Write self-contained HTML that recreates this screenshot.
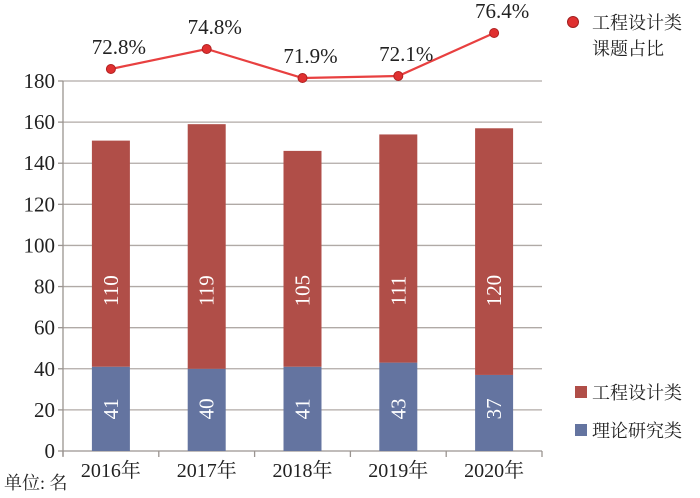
<!DOCTYPE html>
<html><head><meta charset="utf-8"><style>
body{margin:0;background:#fff}
svg text{font-family:"Liberation Serif","DejaVu Serif","Noto Serif CJK SC",serif}
</style></head><body>
<svg width="700" height="493" viewBox="0 0 700 493">
<g id="grid"></g><g id="bars"></g><g id="line"></g>
<g font-size="18" fill="#222">
<circle cx="573" cy="22" r="5.5" fill="#e03030" stroke="#a02020"/>
<text x="592" y="29">工程设计类</text>
<text x="592" y="55">课题占比</text>
<rect x="575" y="386" width="12" height="12" fill="#b04e48"/>
<text x="592" y="399">工程设计类</text>
<rect x="575" y="424" width="12" height="12" fill="#6474a0"/>
<text x="592" y="437">理论研究类</text>
</g>
<text x="4" y="489" font-size="18" fill="#222">单位: 名</text>
</svg>
<script>
const categories=["2016年","2017年","2018年","2019年","2020年"];
const theory=[41,40,41,43,37];
const engineering=[110,119,105,111,120];
const ratio=[72.8,74.8,71.9,72.1,76.4];
const yTicks=[0,20,40,60,80,100,120,140,160,180];
const NS="http://www.w3.org/2000/svg";
const X0=63,X1=542,Y0=451,Y180=81;
const bw=(X1-X0)/categories.length;
const y=v=>Y0-(v/180)*(Y0-Y180);
const xc=i=>X0+bw*(i+0.5);
const yr=p=>69-(p-72.8)*10;
function mk(t,a,p){const e=document.createElementNS(NS,t);for(const k in a)e.setAttribute(k,a[k]);p.appendChild(e);return e;}
const g=document.getElementById('grid'),b=document.getElementById('bars'),l=document.getElementById('line');
yTicks.forEach(v=>{
 if(v>0){const ln=mk('line',{x1:X0,x2:X1,y1:y(v),y2:y(v),stroke:'#b0aaa6','stroke-width':1.3},g);
 
 }
 const tk=mk('line',{x1:X0-5,x2:X0,y1:y(v),y2:y(v),stroke:'#9a9490','stroke-width':1.3},g);
 
 
 const t=mk('text',{x:X0-8,y:y(v)+7,'text-anchor':'end','font-size':21,fill:'#222'},g);t.textContent=v;
 
 
});
const ax=mk('line',{x1:X0,x2:X0,y1:Y180,y2:Y0+5,stroke:'#9a9490','stroke-width':1.3},g);


const xa=mk('line',{x1:X0,x2:X1,y1:Y0,y2:Y0,stroke:'#9a9490','stroke-width':1.3},g);


for(let i=0;i<=categories.length;i++){const t=mk('line',{x1:X0+bw*i,x2:X0+bw*i,y1:Y0,y2:Y0+6,stroke:'#9a9490','stroke-width':1.3},g);
 
 }
categories.forEach((c,i)=>{
 const cx=xc(i),w=38;
 const r1=mk('rect',{x:cx-w/2,y:y(theory[i]),width:w,height:Y0-y(theory[i]),fill:'#6474a0'},b);
 
 
 const top=theory[i]+engineering[i];
 const r2=mk('rect',{x:cx-w/2,y:y(top),width:w,height:y(theory[i])-y(top),fill:'#b04e48'},b);
 
 
 const ym1=y(20.5), ym2=y(78);
 const t1=mk('text',{x:0,y:0,transform:`translate(${cx+7},${ym1}) rotate(-90)`,'text-anchor':'middle','font-size':21,fill:'#fff'},b);t1.textContent=theory[i];
 
 
 const t2=mk('text',{x:0,y:0,transform:`translate(${cx+7},${ym2}) rotate(-90)`,'text-anchor':'middle','font-size':21,fill:'#fff'},b);t2.textContent=engineering[i];
 
 
 const xl=mk('text',{x:cx,y:477,'text-anchor':'middle','font-size':20,fill:'#222'},b);xl.textContent=c;
 
 
});
const pl=mk('polyline',{points:ratio.map((p,i)=>xc(i)+','+yr(p)).join(' '),fill:'none',stroke:'#e84040','stroke-width':2.2},l);


ratio.forEach((p,i)=>{
 const c=mk('circle',{cx:xc(i),cy:yr(p),r:4.5,fill:'#e03030',stroke:'#b02020'},l);
 
 
 const t=mk('text',{x:xc(i)+8,y:yr(p)-15,'text-anchor':'middle','font-size':21,fill:'#222'},l);t.textContent=p.toFixed(1)+'%';
 
 
});
</script>
</body></html>
